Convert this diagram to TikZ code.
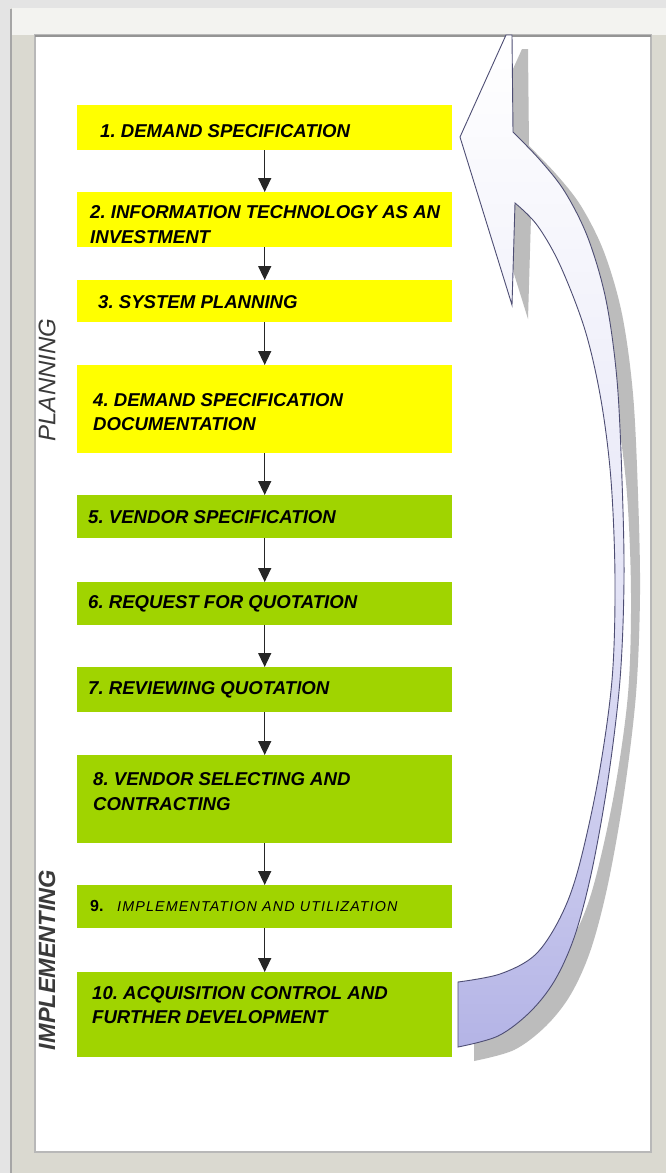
\documentclass[tikz,border=0pt]{standalone}
\usepackage{fontspec}
\setmainfont{Liberation Sans}
\usetikzlibrary{arrows.meta}
\definecolor{outerbg}{HTML}{E4E4E4}
\definecolor{matc}{HTML}{DAD9D0}
\definecolor{topband}{HTML}{F3F3F0}
\definecolor{ylw}{HTML}{FFFF00}
\definecolor{grn}{HTML}{A0D400}
\definecolor{conncol}{HTML}{262626}
\definecolor{arrline}{HTML}{4E4E74}
\definecolor{arrfill}{HTML}{B4B4E6}
\definecolor{lblcol}{HTML}{3A3A3A}
\frenchspacing
\begin{document}
\begin{tikzpicture}[x=1pt,y=-1pt,
  box/.style={draw=none, minimum width=375pt, inner sep=0pt, anchor=north west},
  ybox/.style={box, fill=ylw},
  gbox/.style={box, fill=grn},
  txt/.style={anchor=base west, inner sep=0pt, align=left,
    font=\fontsize{18.6}{24.5}\selectfont\bfseries\itshape},
  conn/.style={draw=conncol, line width=1.4pt, -{Triangle[width=13pt,length=14pt]}},
  side/.style={inner sep=0pt, rotate=90, text=lblcol}
]
\useasboundingbox (0,0) rectangle (666,1173);
% frame
\fill[outerbg] (0,0) rectangle (666,1173);
\fill[matc] (11,8) rectangle (666,1173);
\fill[topband] (12,8) rectangle (666,35);
\draw[black!35, line width=1.6pt] (11,9) -- (11,1173);
\fill[white] (35,35) rectangle (651,1152);
\draw[black!28, line width=1.3pt] (35,1152) -- (35,35) -- (651,35) -- (651,1152) -- cycle;
\draw[black!42, line width=1.5pt] (35,36) -- (651,36);

% boxes
\node[ybox, minimum height=45pt] (b1) at (77,105) {};
\node[ybox, minimum height=55pt] (b2) at (77,192) {};
\node[ybox, minimum height=42pt] (b3) at (77,280) {};
\node[ybox, minimum height=88pt] (b4) at (77,365) {};
\node[gbox, minimum height=43pt] (b5) at (77,495) {};
\node[gbox, minimum height=43pt] (b6) at (77,582) {};
\node[gbox, minimum height=45pt] (b7) at (77,667) {};
\node[gbox, minimum height=88pt] (b8) at (77,755) {};
\node[gbox, minimum height=43pt] (b9) at (77,885) {};
\node[gbox, minimum height=85pt] (b10) at (77,972) {};

% texts (base = baseline of last line)
\node[txt] (t1) at (100,137) {1. DEMAND SPECIFICATION};
\node[txt] (t2) at (90,243) {2. INFORMATION TECHNOLOGY AS AN\\INVESTMENT};
\node[txt] (t3) at (98,308) {3. SYSTEM PLANNING};
\node[txt] (t4) at (93,430.5) {4. DEMAND SPECIFICATION\\DOCUMENTATION};
\node[txt] (t5) at (88,523) {5. VENDOR SPECIFICATION};
\node[txt] (t6) at (88,608.5) {6. REQUEST FOR QUOTATION};
\node[txt] (t7) at (88,694.5) {7. REVIEWING QUOTATION};
\node[txt] (t8) at (93,810) {8. VENDOR SELECTING AND\\CONTRACTING};
\node[txt, font=\fontsize{16}{20}\selectfont\bfseries] (t9a) at (90,911) {9.};
\node[txt, font=\fontsize{14.3}{18}\selectfont\itshape\addfontfeature{LetterSpace=8}] (t9b) at (117,911) {IMPLEMENTATION AND UTILIZATION};
\node[txt] (t10) at (92,1023.5) {10. ACQUISITION CONTROL AND\\FURTHER DEVELOPMENT};

% connectors
\draw[conn] (b1.south) -- (b2.north);
\draw[conn] (b2.south) -- (b3.north);
\draw[conn] (b3.south) -- (b4.north);
\draw[conn] (b4.south) -- (b5.north);
\draw[conn] (b5.south) -- (b6.north);
\draw[conn] (b6.south) -- (b7.north);
\draw[conn] (b7.south) -- (b8.north);
\draw[conn] (b8.south) -- (b9.north);
\draw[conn] (b9.south) -- (b10.north);

% side labels
\node[side, font=\fontsize{24}{24}\selectfont\itshape] (plan) at (47,380) {PLANNING};
\node[side, font=\fontsize{23.5}{24}\selectfont\bfseries\itshape] (impl) at (47,960) {IMPLEMENTING};

% big curved return arrow: shadow
\begin{scope}[shift={(16,14)}]
\fill[black!35, opacity=0.75] (458,1047) -- (458,982)
  -- plot[smooth,tension=0.55] coordinates {(458,982) (500,974) (535,955) (560,918) (578,870) (598,780) (612,680) (615,580) (611,480) (601,400) (585,330) (560,265) (537,225) (515,203)}
  -- (512,305) -- (460,137) -- (506,35) -- (512,35) -- (513,132)
  -- plot[smooth,tension=0.55] coordinates {(513,132) (540,160) (565,192) (588,238) (606,300) (617,380) (622,480) (624,580) (620,680) (608,780) (592,870) (575,935) (555,980) (530,1012) (498,1036) (458,1047)}
  -- cycle;
\end{scope}
% big curved return arrow: body
\draw[arrline, line width=0.9pt, top color=white, bottom color=arrfill, middle color=arrfill!30] (458,1047) -- (458,982)
  -- plot[smooth,tension=0.55] coordinates {(458,982) (500,974) (535,955) (560,918) (578,870) (598,780) (612,680) (615,580) (611,480) (601,400) (585,330) (560,265) (537,225) (515,203)}
  -- (512,305) -- (460,137) -- (506,35) -- (512,35) -- (513,132)
  -- plot[smooth,tension=0.55] coordinates {(513,132) (540,160) (565,192) (588,238) (606,300) (617,380) (622,480) (624,580) (620,680) (608,780) (592,870) (575,935) (555,980) (530,1012) (498,1036) (458,1047)}
  -- cycle;
\end{tikzpicture}
\end{document}
